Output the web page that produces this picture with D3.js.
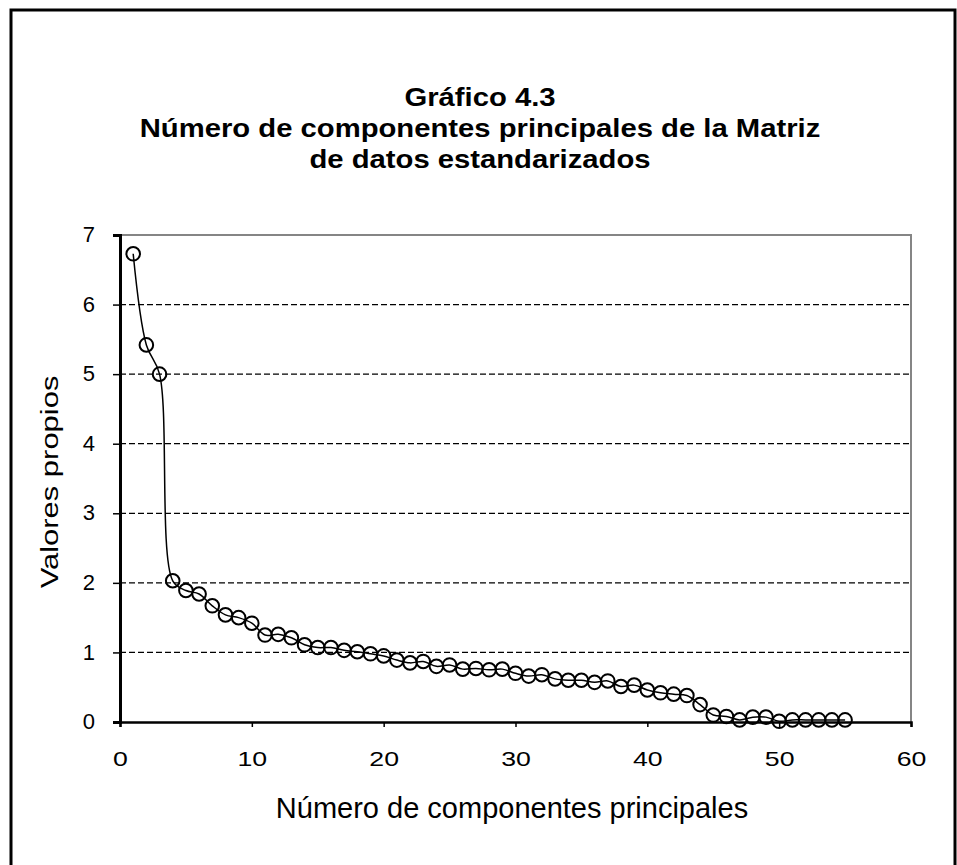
<!DOCTYPE html>
<html>
<head>
<meta charset="utf-8">
<script src="https://cdn.jsdelivr.net/npm/d3@7"></script>
<style>
  body { margin: 0; background: #fff; }
  text { font-family: "Liberation Sans", Arial, sans-serif; fill: #000; }
</style>
</head>
<body>
<script>
// values (component number -> eigenvalue)
var components = d3.range(1, 56);
var eigenvalues = [6.73, 5.42, 5.00, 2.03, 1.89, 1.84, 1.67, 1.54, 1.50, 1.42,
                   1.25, 1.26, 1.21, 1.11, 1.07, 1.07, 1.03, 1.01, 0.98, 0.95,
                   0.89, 0.85, 0.87, 0.80, 0.82, 0.76, 0.77, 0.75, 0.76, 0.70,
                   0.66, 0.68, 0.62, 0.60, 0.60, 0.57, 0.59, 0.51, 0.53, 0.46,
                   0.42, 0.40, 0.38, 0.25, 0.10, 0.08, 0.03, 0.07, 0.07, 0.01,
                   0.03, 0.03, 0.03, 0.03, 0.03];
var xTicks = [0, 10, 20, 30, 40, 50, 60];
var yTicks = [0, 1, 2, 3, 4, 5, 6, 7];
var titleLines = ["Gráfico 4.3",
                  "Número de componentes principales de la Matriz",
                  "de datos estandarizados"];

var W = 957, H = 865;
var margin = {top: 235, right: 46, bottom: 143, left: 120},
    width = W - margin.left - margin.right,
    height = H - margin.top - margin.bottom;

var svg = d3.select("body").append("svg")
    .attr("width", W)
    .attr("height", H);

// outer frame
svg.append("rect")
    .attr("x", 11).attr("y", 10)
    .attr("width", 944).attr("height", 870)
    .attr("fill", "none")
    .attr("stroke", "#000")
    .attr("stroke-width", 3);

// title (text in the source is a little wider than plain Arial)
svg.append("g").selectAll("text")
    .data(titleLines)
    .enter().append("text")
    .attr("transform", function(d, i) {
        return "translate(480," + (106 + i * 31) + ") scale(1.17,1)";
    })
    .attr("text-anchor", "middle")
    .style("font-size", "25px")
    .style("font-weight", "bold")
    .text(function(d) { return d; });

var x = d3.scaleLinear().domain([0, 60]).range([0, width]);
var y = d3.scaleLinear().domain([0, 7]).range([height, 0]);

var g = svg.append("g")
    .attr("transform", "translate(" + margin.left + "," + margin.top + ")");

// plot area border (top + right, grey)
g.append("path")
    .attr("d", "M0,0H" + width + "V" + height)
    .attr("fill", "none")
    .attr("stroke", "#858585")
    .attr("stroke-width", 2);

// dashed gridlines
g.selectAll(".grid")
    .data(yTicks.filter(function(d) { return d > 0 && d < 7; }))
    .enter().append("line")
    .attr("class", "grid")
    .attr("x1", 0).attr("x2", width)
    .attr("y1", function(d) { return y(d); })
    .attr("y2", function(d) { return y(d); })
    .attr("stroke", "#000")
    .attr("stroke-width", 1.3)
    .attr("stroke-dasharray", "6,3");

// axes
var xAxis = g.append("g")
    .attr("transform", "translate(0," + height + ")")
    .call(d3.axisBottom(x).tickValues(xTicks).tickFormat(d3.format("d")).tickSize(5));
var yAxis = g.append("g")
    .call(d3.axisLeft(y).tickValues(yTicks).tickFormat(d3.format("d")).tickSize(7));

xAxis.select(".domain").attr("stroke-width", 2.5);
yAxis.select(".domain").attr("stroke-width", 3);
xAxis.selectAll(".tick line").attr("stroke-width", 1.5);
yAxis.selectAll(".tick line").attr("stroke-width", 1.5);

xAxis.selectAll(".tick text")
    .attr("y", null).attr("dy", null)
    .attr("font-family", null)
    .style("font-size", "21px")
    .attr("transform", "translate(0,44) scale(1.27,1)");
yAxis.selectAll(".tick text")
    .attr("x", -25).attr("dy", "0.3em")
    .attr("font-family", null)
    .style("font-size", "22px");

// smoothed line
var line = d3.line()
    .x(function(d, i) { return x(components[i]); })
    .y(function(d) { return y(d); })
    .curve(d3.curveCatmullRom.alpha(0.5));

g.append("path")
    .datum(eigenvalues)
    .attr("d", line)
    .attr("fill", "none")
    .attr("stroke", "#000")
    .attr("stroke-width", 1.5);

// markers
g.selectAll(".pt")
    .data(eigenvalues)
    .enter().append("circle")
    .attr("class", "pt")
    .attr("cx", function(d, i) { return x(components[i]); })
    .attr("cy", function(d) { return y(d); })
    .attr("r", 6.8)
    .attr("fill", "none")
    .attr("stroke", "#000")
    .attr("stroke-width", 2);

// axis titles
svg.append("text")
    .attr("x", 512)
    .attr("y", 818)
    .attr("text-anchor", "middle")
    .style("font-size", "29px")
    .text("Número de componentes principales");

svg.append("text")
    .attr("transform", "translate(58,482) rotate(-90) scale(1.29,1)")
    .attr("text-anchor", "middle")
    .style("font-size", "24px")
    .text("Valores propios");
</script>
</body>
</html>
